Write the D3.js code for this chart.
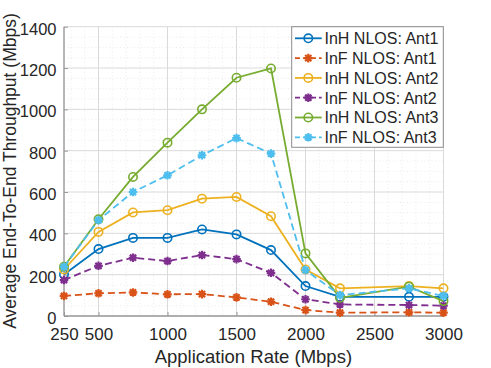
<!DOCTYPE html>
<html><head><meta charset="utf-8">
<script src="https://cdn.jsdelivr.net/npm/d3@7"></script>
<style>
body{margin:0;background:#fff;}
svg text{font-family:"Liberation Sans",Arial,Helvetica,sans-serif;fill:#262626;}
</style></head>
<body><svg id="c" width="491" height="368"></svg>
<script>
const rates = [250,500,750,1000,1250,1500,1750,2000,2250,2750,3000];
const inhAnt1 = [201,324,378,378,419,395,319,145,93,93,93];
const infAnt1 = [97,110,114,105,106,90,69,29,16,18,16];
const inhAnt2 = [225,407,501,512,568,576,483,225,134,145,134];
const infAnt2 = [174,243,282,266,295,275,209,81,56,53,50];
const inhAnt3 = [238,468,673,839,1000,1153,1198,303,88,142,72];
const infAnt3 = [238,464,600,681,778,861,786,222,101,134,97];
const seriesNames = ["InH NLOS: Ant1","InF NLOS: Ant1","InH NLOS: Ant2","InF NLOS: Ant2","InH NLOS: Ant3","InF NLOS: Ant3"];
const seriesColors = ["#0072BD","#D95319","#EDB120","#7E2F8E","#77AC30","#4DBEEE"];
const seriesMarkers = ["o","*","o","*","o","*"];
const seriesValues = [inhAnt1,infAnt1,inhAnt2,infAnt2,inhAnt3,infAnt3];
const xTicks = [250,500,1000,1500,2000,2500,3000];
const yTicks = [0,200,400,600,800,1000,1200,1400];

const svg = d3.select("#c");
const L=64, R=443.5, T=26.7, B=316;
const x = d3.scaleLinear().domain([250,3000]).range([L,R]);
const y = d3.scaleLinear().domain([0,1400]).range([B,T]);

// minor grid
const g = svg.append("g");
const xMinor = d3.range(300,3000,100).filter(v=>!xTicks.includes(v));
const yMinor = d3.range(50,1400,50).filter(v=>!yTicks.includes(v));
g.selectAll(".xm").data(xMinor).join("line")
 .attr("x1",d=>x(d)).attr("x2",d=>x(d)).attr("y1",T).attr("y2",B)
 .attr("stroke","#e4e4e4").attr("stroke-width",0.8).attr("stroke-dasharray","1,2.5");
g.selectAll(".ym").data(yMinor).join("line")
 .attr("y1",d=>y(d)).attr("y2",d=>y(d)).attr("x1",L).attr("x2",R)
 .attr("stroke","#e4e4e4").attr("stroke-width",0.8).attr("stroke-dasharray","1,2.5");
// major grid
g.selectAll(".xg").data(xTicks).join("line")
 .attr("x1",d=>x(d)).attr("x2",d=>x(d)).attr("y1",T).attr("y2",B)
 .attr("stroke","#dadada").attr("stroke-width",1);
g.selectAll(".yg").data(yTicks).join("line")
 .attr("y1",d=>y(d)).attr("y2",d=>y(d)).attr("x1",L).attr("x2",R)
 .attr("stroke","#dadada").attr("stroke-width",1);

// axes
const xAxis = d3.axisBottom(x).tickValues(xTicks).tickSize(-4).tickPadding(0).tickFormat(d3.format("d"));
const yAxis = d3.axisLeft(y).tickValues(yTicks).tickSize(-4).tickPadding(0).tickFormat(d3.format("d"));
const gx = svg.append("g").attr("transform",`translate(0,${B})`).call(xAxis);
const gy = svg.append("g").attr("transform",`translate(${L},0)`).call(yAxis);
[gx,gy].forEach(a=>{
  a.select(".domain").attr("stroke","#9a9a9a").attr("stroke-width",1.3);
  a.selectAll(".tick line").attr("stroke","#9a9a9a").attr("stroke-width",1);
});
gx.selectAll(".tick text").attr("y",24).attr("dy",null).attr("font-size",17).attr("fill","#262626");
gy.selectAll(".tick text").attr("x",-7.5).attr("dy",null).attr("y",7.5).attr("font-size",16.5).attr("fill","#262626");
gx.select(".domain").attr("d",`M${L},0H${R}`);
gy.select(".domain").attr("d",`M0,${B}V${T}`);

// lines
const line = d3.line().x((d,i)=>x(rates[i])).y(d=>y(d));
function drawMarker(sel, type, color){
  if(type==="o"){
    sel.append("circle").attr("r",4.2).attr("fill","none").attr("stroke",color).attr("stroke-width",1.6);
  } else {
    const s=4.3, s2=3.1;
    sel.append("path").attr("d",`M${-s},0H${s}M0,${-s}V${s}M${-s2},${-s2}L${s2},${s2}M${-s2},${s2}L${s2},${-s2}`)
      .attr("stroke",color).attr("stroke-width",2.2).attr("fill","none");
  }
}
seriesValues.forEach((vals,k)=>{
  const c=seriesColors[k];
  svg.append("path").datum(vals).attr("d",line).attr("fill","none").attr("stroke",c)
    .attr("stroke-width",1.8).attr("stroke-dasharray",seriesMarkers[k]==="*"?"7,4":null);
  vals.forEach((v,i)=>{
    const m=svg.append("g").attr("transform",`translate(${x(rates[i])},${y(v)})`);
    drawMarker(m,seriesMarkers[k],c);
  });
});

// legend
const lg = svg.append("g");
lg.append("rect").attr("x",291.7).attr("y",26.7).attr("width",151.6).attr("height",120.6)
  .attr("fill","#fff").attr("stroke","#8c8c8c").attr("stroke-width",1);
seriesNames.forEach((n,k)=>{
  const cy = 38.3 + k*19.8;
  const c=seriesColors[k];
  lg.append("line").attr("x1",295).attr("x2",321.7).attr("y1",cy).attr("y2",cy)
    .attr("stroke",c).attr("stroke-width",1.8).attr("stroke-dasharray",seriesMarkers[k]==="*"?"5,3":null);
  const m=lg.append("g").attr("transform",`translate(308.3,${cy})`);
  drawMarker(m,seriesMarkers[k],c);
  lg.append("text").attr("x",324.5).attr("y",cy+5.9).attr("font-size",16).text(n);
});

// axis labels
svg.append("text").attr("x",(151.7+355)/2).attr("y",362.5).attr("text-anchor","middle")
  .attr("font-size",18.5).text("Application Rate (Mbps)");
svg.append("text").attr("transform",`translate(15.5,171) rotate(-90)`).attr("text-anchor","middle")
  .attr("font-size",17.5).text("Average End-To-End Throughput (Mbps)");
</script></body></html>
